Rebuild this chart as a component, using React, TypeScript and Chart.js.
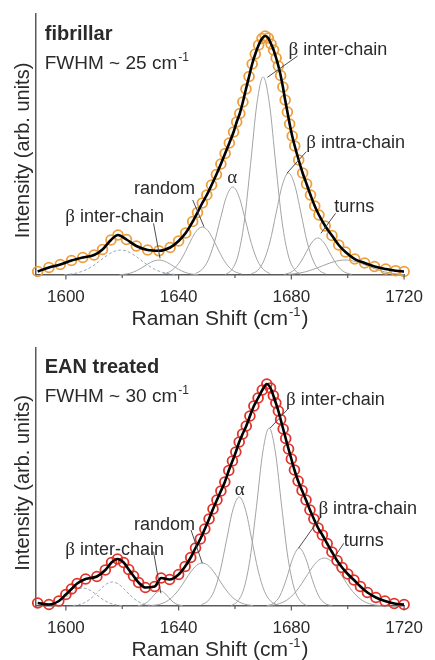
import React, { useEffect, useRef } from 'react';
import { Chart, registerables } from 'chart.js';

Chart.register(...registerables);

// ---------------- DATA ----------------
// x axis ticks
const X_MIN = 1589.4;
const X_MAX = 1720;
const X_TICK_LABELS = [1600, 1640, 1680, 1720];
const X_MINOR = [1620, 1660, 1700];

// ---- fibrillar (top panel) : measured spectrum (circles) ----
const fibShift = [
  1590, 1594, 1598, 1602, 1606, 1610, 1613, 1616, 1618.5, 1621.5, 1625, 1629, 1633, 1637, 1640,
  1642.5, 1645, 1646.7, 1648.4, 1650, 1651.7, 1653.4, 1655, 1656.5, 1658, 1659.5, 1660.6, 1661.7,
  1662.8, 1663.9, 1665, 1666.1, 1667.2, 1668.4, 1669.6, 1670.7, 1671.8, 1672.8, 1673.7, 1674.6,
  1675.4, 1676.2, 1677, 1677.8, 1678.6, 1679.4, 1680.3, 1681.2, 1682.6, 1684, 1685.4, 1686.8,
  1688.3, 1689.8, 1692, 1694.4, 1696.8, 1699.2, 1702.5, 1706, 1709.5, 1713.5, 1717, 1720,
];
const fibIntensity = [
  3.5, 7.5, 10.5, 14.5, 17.5, 20, 25.5, 35, 40, 35.5, 29, 25, 24.2, 27.5, 34,
  42, 53.5, 62.5, 72, 80, 90, 100.5, 111, 121.5, 132, 143, 153, 161.5,
  173, 186, 198.5, 211, 221, 230, 236.5, 239, 237, 231, 225, 217,
  209, 199.5, 188, 175, 163, 151, 139, 129, 115, 102, 91, 80,
  69, 60, 49, 39.5, 30, 23, 16, 12, 8.5, 6, 4.3, 3.5,
];

// ---- fibrillar fitted bands [shift, intensity] ----
const fibBetaInter: [number, number][] = [
  [1656.56, 0.5], [1658.8, 5.1], [1661.04, 19.1], [1663.28, 53], [1665.52, 110.5], [1667.76, 171], [1670, 198],
  [1672.24, 171], [1674.48, 110.5], [1676.72, 53], [1678.96, 19.1], [1681.2, 5.1], [1683.44, 0.5],
];
const fibBetaIntra: [number, number][] = [
  [1665.8, 1.1], [1668, 4.5], [1670.2, 14], [1672.4, 33], [1674.6, 62], [1676.8, 90], [1679, 102],
  [1681.2, 90], [1683.4, 62], [1685.6, 33], [1687.8, 14], [1690, 4.5], [1692.2, 1.1],
];
const fibTurns: [number, number][] = [
  [1677.4, 0.6], [1679.4, 2.2], [1681.4, 6], [1683.4, 13.3], [1685.4, 23.5], [1687.4, 33], [1689.4, 37],
  [1691.4, 33], [1693.4, 23.5], [1695.4, 13.3], [1697.4, 6], [1699.4, 2.2], [1701.4, 0.6],
];
const fibHigh: [number, number][] = [
  [1679, 0.66], [1681, 1.2], [1683, 2.0], [1685, 3.2], [1687, 4.9], [1689, 6.9], [1691, 9.1],
  [1693, 11.3], [1695, 13.2], [1697, 14.5], [1699, 15], [1701, 14.5], [1703, 13.2], [1705, 11.3],
  [1707, 9.1], [1709, 6.9], [1711, 4.9], [1713, 3.2], [1715, 2.0], [1717, 1.2], [1719, 0.66], [1720, 0.5],
];
const fibAlpha: [number, number][] = [
  [1646, 1.5], [1648.2, 5.2], [1650.4, 14.3], [1652.6, 31.7], [1654.8, 55.9], [1657, 78.6], [1659.2, 88],
  [1661.4, 78.6], [1663.6, 55.9], [1665.8, 31.7], [1668, 14.3], [1670.2, 5.2], [1672.4, 1.5],
];
const fibRandom: [number, number][] = [
  [1634.4, 1], [1636.4, 2.7], [1638.4, 6.5], [1640.4, 13.3], [1642.4, 23.4], [1644.4, 34.9], [1646.4, 44.3],
  [1648.4, 48], [1650.4, 44.3], [1652.4, 34.9], [1654.4, 23.4], [1656.4, 13.3], [1658.4, 6.5], [1660.4, 2.7],
  [1662.4, 1],
];
const fibLow: [number, number][] = [
  [1619, 0.3], [1621, 0.8], [1623, 2], [1625, 4.2], [1627, 7.3], [1629, 10.9], [1631, 13.8], [1633, 15],
  [1635, 13.8], [1637, 10.9], [1639, 7.3], [1641, 4.2], [1643, 2], [1645, 0.8], [1647, 0.3],
];
const fibSideChain: [number, number][] = [
  [1599.5, 0.4], [1601.5, 0.9], [1603.5, 1.8], [1605.5, 3.4], [1607.5, 5.7], [1609.5, 9], [1611.5, 13],
  [1613.5, 17.3], [1615.5, 21.2], [1617.5, 24], [1619.5, 25], [1621.5, 24], [1623.5, 21.2], [1625.5, 17.3],
  [1627.5, 13], [1629.5, 9], [1631.5, 5.7], [1633.5, 3.4], [1635.5, 1.8], [1637.5, 0.9], [1639.5, 0.4],
];

// ---- EAN treated (bottom panel) : measured spectrum ----
const eanShift = [
  1590, 1594, 1597.5, 1600, 1602, 1604, 1607, 1611, 1614, 1616.2, 1618.3, 1620.5, 1622.3, 1624,
  1625.8, 1628.2, 1631.5, 1633.8, 1636.8, 1640, 1642.3, 1644.3, 1646, 1647.7, 1649.3, 1650.8,
  1652.2, 1653.6, 1655, 1656.4, 1657.8, 1659.1, 1660.3, 1661.5, 1662.7, 1664, 1665.3, 1666.7,
  1668.2, 1669.7, 1671.3, 1672.6, 1673.6, 1674.5, 1675.4, 1676.2, 1677.1, 1678, 1679, 1680,
  1681.1, 1682.4, 1683.8, 1685.2, 1686.6, 1688, 1689.5, 1691, 1692.7, 1694.4, 1696.2, 1698,
  1700, 1702.2, 1704.5, 1707, 1710, 1713.2, 1716.5, 1720,
];
const eanIntensity = [
  3, 1.5, 5, 11.5, 17, 22.5, 27, 29.5, 36, 43.5, 47, 43.5, 36.5, 30,
  23.5, 18.5, 19.5, 28, 26.5, 31.5, 39.5, 48.5, 58, 67, 77, 87,
  97, 106, 115, 124, 135.5, 145, 154, 164, 172, 180, 190, 200,
  208, 216, 222, 218, 210.5, 203, 195, 186.5, 177, 167.5, 157, 147,
  136, 125, 115.5, 106, 96, 87, 78, 71, 62.5, 54, 45.5, 38.5,
  32, 26, 19.5, 13.5, 8.5, 5, 2.5, 1.5,
];

const eanBetaInter: [number, number][] = [
  [1658.66, 0.4], [1660.9, 4.6], [1663.14, 17.2], [1665.38, 47.7], [1667.62, 99.3], [1669.86, 153.8], [1672.1, 178],
  [1674.34, 153.8], [1676.58, 99.3], [1678.82, 47.7], [1681.06, 17.2], [1683.3, 4.6], [1685.54, 0.4],
];
const eanAlpha: [number, number][] = [
  [1648.06, 1.2], [1650.3, 4.8], [1652.54, 14.7], [1654.78, 35.4], [1657.02, 66.1], [1659.26, 96.2], [1661.5, 109],
  [1663.74, 96.2], [1665.98, 66.1], [1668.22, 35.4], [1670.46, 14.7], [1672.7, 4.8], [1674.94, 1.2],
];
const eanBetaIntra: [number, number][] = [
  [1671.3, 0.4], [1673.6, 2.5], [1675.9, 10], [1678.2, 26.6], [1680.5, 47.7], [1682.8, 58],
  [1685.1, 47.7], [1687.4, 26.6], [1689.7, 10], [1692, 2.5], [1694.3, 0.4],
];
const eanTurns: [number, number][] = [
  [1671.7, 0.4], [1673.7, 1.0], [1675.7, 2.3], [1677.7, 4.7], [1679.7, 8.7], [1681.7, 14.7], [1683.7, 22.5],
  [1685.7, 31.3], [1687.7, 39.7], [1689.7, 45.8], [1691.7, 48], [1693.7, 45.8], [1695.7, 39.7], [1697.7, 31.3],
  [1699.7, 22.5], [1701.7, 14.7], [1703.7, 8.7], [1705.7, 4.7], [1707.7, 2.3], [1709.7, 1.0], [1711.7, 0.4],
];
const eanRandom: [number, number][] = [
  [1630.4, 0.5], [1632.4, 1.2], [1634.4, 2.8], [1636.4, 5.8], [1638.4, 10.7], [1640.4, 17.7], [1642.4, 26.1],
  [1644.4, 34.4], [1646.4, 40.7], [1648.4, 43], [1650.4, 40.7], [1652.4, 34.4], [1654.4, 26.1], [1656.4, 17.7],
  [1658.4, 10.7], [1660.4, 5.8], [1662.4, 2.8], [1664.4, 1.2], [1666.4, 0.5],
];
const eanLow: [number, number][] = [
  [1625.5, 0.25], [1627.5, 1.5], [1629, 4.1], [1630.5, 8.4], [1632, 13], [1633.5, 15],
  [1635, 13], [1636.5, 8.4], [1638, 4.1], [1639.5, 1.5], [1641.5, 0.25],
];
const eanSideA: [number, number][] = [
  [1592, 0.35], [1594, 1], [1596, 2.4], [1598, 5], [1600, 8.8], [1602, 13.1], [1604, 16.6], [1606, 18],
  [1608, 16.6], [1610, 13.1], [1612, 8.8], [1614, 5], [1616, 2.4], [1618, 1], [1620, 0.35],
];
const eanSideB: [number, number][] = [
  [1602.5, 0.5], [1604.5, 1.3], [1606.5, 3.2], [1608.5, 6.7], [1610.5, 11.7], [1612.5, 17.4], [1614.5, 22.2],
  [1616.5, 24], [1618.5, 22.2], [1620.5, 17.4], [1622.5, 11.7], [1624.5, 6.7], [1626.5, 3.2], [1628.5, 1.3],
  [1630.5, 0.5],
];

// ---- text ----
const X_TITLE = 'Raman Shift (cm';
const Y_TITLE = 'Intensity (arb. units)';

type Label = { greek?: string; text: string; w: number; v: number; center?: boolean };
const fibLabels: Label[] = [
  { greek: 'β', text: ' inter-chain', w: 1679.0, v: 220 },
  { greek: 'β', text: ' intra-chain', w: 1685.3, v: 126.7 },
  { greek: 'α', text: '', w: 1659.0, v: 92.3, center: true },
  { text: 'random', w: 1624.2, v: 80.7 },
  { greek: 'β', text: ' inter-chain', w: 1599.8, v: 53.3 },
  { text: 'turns', w: 1695.2, v: 63.3 },
];
const fibLeaders: number[][] = [
  [1682.2, 219, 1671.5, 197.7],
  [1685.3, 123.3, 1678.4, 101.7],
  [1645, 75, 1649, 48.3],
  [1631.1, 51.7, 1633.4, 16.7],
  [1695.7, 61.7, 1690.5, 41.7],
];
const eanLabels: Label[] = [
  { greek: 'β', text: ' inter-chain', w: 1678.1, v: 201 },
  { greek: 'α', text: '', w: 1661.7, v: 111, center: true },
  { greek: 'β', text: ' intra-chain', w: 1689.6, v: 92 },
  { text: 'turns', w: 1698.6, v: 60 },
  { text: 'random', w: 1624.2, v: 76 },
  { greek: 'β', text: ' inter-chain', w: 1599.8, v: 51 },
];
const eanLeaders: number[][] = [
  [1679, 197.7, 1672.4, 177.7],
  [1690.5, 89.3, 1682.5, 57.7],
  [1698.6, 62.7, 1694.6, 46],
  [1644.4, 76, 1648.4, 42.7],
  [1631.1, 54.3, 1633.7, 12.7],
];

// ---------------- STYLE ----------------
const SANS = '"Liberation Sans", Arial, sans-serif';
const SERIF = '"Liberation Serif", "Times New Roman", serif';
const AXIS_COLOR = '#5a5a5a';
const TEXT_COLOR = '#2a2a2a';
const BAND_COLOR = '#a3a3a3';
const SIDE_COLOR = '#9aa6b8';

type PanelProps = {
  title: string;
  fwhm: string;
  shift: number[];
  intensity: number[];
  markerColor: string;
  bands: [number, number][][];
  sideBands: [number, number][][];
  labels: Label[];
  leaders: number[][];
  yMax: number;
  padTop: number;
  xBoxH: number;
  titleV: number;
  fwhmV: number;
};

function pairs(p: [number, number][]) {
  return p.map(([x, y]) => ({ x, y }));
}

function Panel(props: PanelProps) {
  const ref = useRef<HTMLCanvasElement | null>(null);
  useEffect(() => {
    const canvas = ref.current;
    if (!canvas) return;
    const spectrum = props.shift.map((x, i) => ({ x, y: props.intensity[i] }));

    const textPlugin = {
      id: 'textPlugin',
      afterDatasetsDraw(chart: any) {
        const { ctx, chartArea, scales } = chart;
        const xs = scales.x;
        const ys = scales.y;
        const px = (w: number) => xs.getPixelForValue(w);
        const py = (v: number) => ys.getPixelForValue(v);
        ctx.save();
        // minor/major tick marks
        ctx.strokeStyle = AXIS_COLOR;
        ctx.lineWidth = 1.2;
        X_TICK_LABELS.forEach((t) => {
          ctx.beginPath();
          ctx.moveTo(px(t), chartArea.bottom);
          ctx.lineTo(px(t), chartArea.bottom + 4.5);
          ctx.stroke();
        });
        X_MINOR.forEach((t) => {
          ctx.beginPath();
          ctx.moveTo(px(t), chartArea.bottom);
          ctx.lineTo(px(t), chartArea.bottom + 3);
          ctx.stroke();
        });
        // leader lines
        ctx.strokeStyle = '#3a3a3a';
        ctx.lineWidth = 0.9;
        props.leaders.forEach(([w1, v1, w2, v2]) => {
          ctx.beginPath();
          ctx.moveTo(px(w1), py(v1));
          ctx.lineTo(px(w2), py(v2));
          ctx.stroke();
        });
        // labels
        ctx.fillStyle = TEXT_COLOR;
        ctx.textBaseline = 'alphabetic';
        ctx.textAlign = 'left';
        props.labels.forEach((l) => {
          let x = px(l.w);
          const y = py(l.v);
          const gFont = `19px ${SERIF}`;
          const tFont = `18px ${SANS}`;
          let total = 0;
          if (l.greek) { ctx.font = gFont; total += ctx.measureText(l.greek).width; }
          ctx.font = tFont; total += ctx.measureText(l.text).width;
          if (l.center) x -= total / 2;
          if (l.greek) {
            ctx.font = gFont;
            ctx.fillText(l.greek, x, y);
            x += ctx.measureText(l.greek).width;
          }
          ctx.font = tFont;
          ctx.fillText(l.text, x, y);
        });
        // panel title
        ctx.font = `bold 20px ${SANS}`;
        ctx.fillText(props.title, px(1592.5), py(props.titleV));
        // FWHM line with superscript
        ctx.font = `19px ${SANS}`;
        let fx = px(1592.5);
        const fy = py(props.fwhmV);
        ctx.fillText(props.fwhm, fx, fy);
        fx += ctx.measureText(props.fwhm).width + 1;
        ctx.font = `12px ${SANS}`;
        ctx.fillText('-1', fx, fy - 8);
        // x title
        const cx = (chartArea.left + chartArea.right) / 2;
        const ty = chartArea.bottom + 50;
        ctx.font = `21px ${SANS}`;
        const w1 = ctx.measureText(X_TITLE).width;
        ctx.font = `13px ${SANS}`;
        const w2 = ctx.measureText('-1').width;
        ctx.font = `21px ${SANS}`;
        const w3 = ctx.measureText(')').width;
        let tx = cx - (w1 + w2 + w3 + 2) / 2;
        ctx.fillText(X_TITLE, tx, ty);
        tx += w1 + 1;
        ctx.font = `13px ${SANS}`;
        ctx.fillText('-1', tx, ty - 9);
        tx += w2 + 1;
        ctx.font = `21px ${SANS}`;
        ctx.fillText(')', tx, ty);
        // y title
        ctx.save();
        ctx.translate(29, (chartArea.top + chartArea.bottom) / 2 + 6);
        ctx.rotate(-Math.PI / 2);
        ctx.textAlign = 'center';
        ctx.font = `20px ${SANS}`;
        ctx.fillText(Y_TITLE, 0, 0);
        ctx.restore();
        ctx.restore();
      },
    };

    const bandSets = props.bands.map((b) => ({
      data: pairs(b),
      showLine: true,
      borderColor: BAND_COLOR,
      borderWidth: 1,
      pointRadius: 0,
      cubicInterpolationMode: 'monotone' as const,
      order: 3,
    }));
    const sideSets = props.sideBands.map((b) => ({
      data: pairs(b),
      showLine: true,
      borderColor: SIDE_COLOR,
      borderWidth: 1,
      borderDash: [3, 2],
      pointRadius: 0,
      cubicInterpolationMode: 'monotone' as const,
      order: 3,
    }));

    const chart = new Chart(canvas, {
      type: 'scatter',
      data: {
        datasets: [
          {
            data: spectrum,
            showLine: true,
            borderColor: '#000000',
            borderWidth: 2.6,
            pointRadius: 0,
            tension: 0.4,
            cubicInterpolationMode: 'monotone',
            order: 0,
          } as any,
          {
            data: spectrum,
            showLine: false,
            pointRadius: 4.9,
            pointBorderWidth: 1.8,
            pointBorderColor: props.markerColor,
            pointBackgroundColor: 'rgba(0,0,0,0)',
            clip: false,
            order: 1,
          } as any,
          ...bandSets,
          ...sideSets,
        ],
      },
      options: {
        animation: false,
        responsive: false,
        events: [],
        layout: { padding: { top: props.padTop, right: 21, left: 0, bottom: 0 } },
        plugins: { legend: { display: false }, tooltip: { enabled: false } },
        scales: {
          x: {
            type: 'linear',
            min: X_MIN,
            max: X_MAX,
            grid: { display: false, drawTicks: false },
            border: { display: true, color: AXIS_COLOR, width: 1.5 },
            ticks: {
              stepSize: 20,
              includeBounds: false,
              color: TEXT_COLOR,
              font: { family: SANS, size: 17 },
              padding: 12,
              maxRotation: 0,
              autoSkip: false,
              callback: (val: any) => (X_TICK_LABELS.includes(Number(val)) ? String(val) : ''),
            },
            afterFit: (scale: any) => { scale.height = props.xBoxH; },
          },
          y: {
            type: 'linear',
            min: 0,
            max: props.yMax,
            grid: { display: false, drawTicks: false },
            border: { display: true, color: AXIS_COLOR, width: 1.5 },
            ticks: { display: false },
            afterFit: (scale: any) => { scale.width = 36; },
          },
        },
      },
      plugins: [textPlugin],
    });
    return () => chart.destroy();
  }, []);
  return (
    <div style={{ width: 435, height: 330, position: 'relative' }}>
      <canvas ref={ref} width={435} height={330} style={{ display: 'block' }} />
    </div>
  );
}

export default function App() {
  useEffect(() => {
    document.body.style.margin = '0';
    document.body.style.background = '#ffffff';
  }, []);
  return (
    <div style={{ width: 435, height: 660, background: '#fff' }}>
      <Panel
        title="fibrillar"
        fwhm="FWHM ~ 25 cm"
        shift={fibShift}
        intensity={fibIntensity}
        markerColor="#ec9f3c"
        bands={[fibBetaInter, fibBetaIntra, fibTurns, fibHigh, fibAlpha, fibRandom, fibLow]}
        sideBands={[fibSideChain]}
        labels={fibLabels}
        leaders={fibLeaders}
        yMax={261}
        padTop={14}
        xBoxH={55}
        titleV={235}
        fwhmV={205.7}
      />
      <Panel
        title="EAN treated"
        fwhm="FWHM ~ 30 cm"
        shift={eanShift}
        intensity={eanIntensity}
        markerColor="#e0352c"
        bands={[eanBetaInter, eanAlpha, eanBetaIntra, eanTurns, eanRandom, eanLow]}
        sideBands={[eanSideA, eanSideB]}
        labels={eanLabels}
        leaders={eanLeaders}
        yMax={258}
        padTop={18}
        xBoxH={54}
        titleV={232.7}
        fwhmV={204.3}
      />
    </div>
  );
}
